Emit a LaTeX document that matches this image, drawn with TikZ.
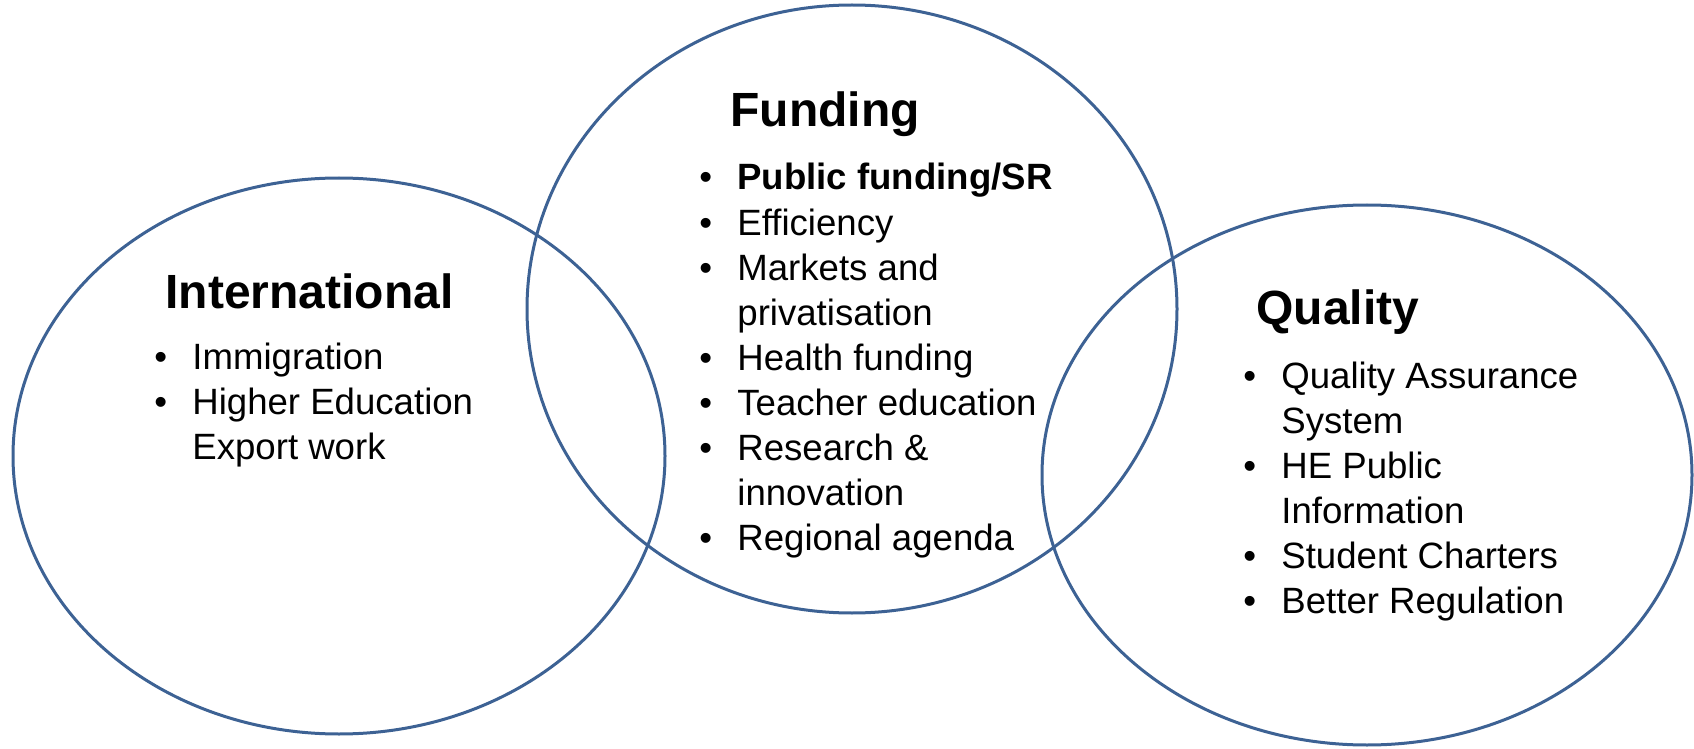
\documentclass[tikz,border=0pt]{standalone}
\usepackage{fontspec}
\setmainfont{Liberation Sans}
\definecolor{ringblue}{RGB}{61,98,148}
\tikzset{
    ring/.style={draw=ringblue,line width=1.5pt},
    heading/.style={anchor=base west,inner sep=0pt,font=\fontsize{24}{29}\selectfont\bfseries},
    points/.style={anchor=base west,inner sep=0pt,font=\fontsize{18.3}{22.55}\selectfont}
}

\begin{document}
\begin{tikzpicture}[line cap=round,line join=round,x=0.5pt,y=-0.5pt]
        \useasboundingbox (0,0) rectangle (1694,749);
        \draw[ring] (339,456) ellipse [x radius=326,y radius=278];
        \draw[ring] (852,309) ellipse [x radius=325,y radius=304];
        \draw[ring] (1367,475) ellipse [x radius=325,y radius=270];
        \node[heading] (intl) at (165,308) {International};
        \node[points] (intlitems) at (154,369) {\begin{tabular}[t]{@{}p{19pt}@{}l@{}}
            \textbullet & Immigration\\
            \textbullet & Higher Education\\
                        & Export work
        \end{tabular}};
        \node[heading] (fund) at (730,127) {Funding};
        \node[points] (funditems) at (699,190) {\begin{tabular}[t]{@{}p{19pt}@{}l@{}}
            \textbullet & \textbf{Public funding/SR}\\
            \textbullet & Efficiency\\
            \textbullet & Markets and\\
                        & privatisation\\
            \textbullet & Health funding\\
            \textbullet & Teacher education\\
            \textbullet & Research \&\\
                        & innovation\\
            \textbullet & Regional agenda
        \end{tabular}};
        \node[heading] (qual) at (1256,324) {Quality};
        \node[points] (qualitems) at (1243,388) {\begin{tabular}[t]{@{}p{19pt}@{}l@{}}
            \textbullet & Quality Assurance\\
                        & System\\
            \textbullet & HE Public\\
                        & Information\\
            \textbullet & Student Charters\\
            \textbullet & Better Regulation
        \end{tabular}};
    \end{tikzpicture}
\end{document}
